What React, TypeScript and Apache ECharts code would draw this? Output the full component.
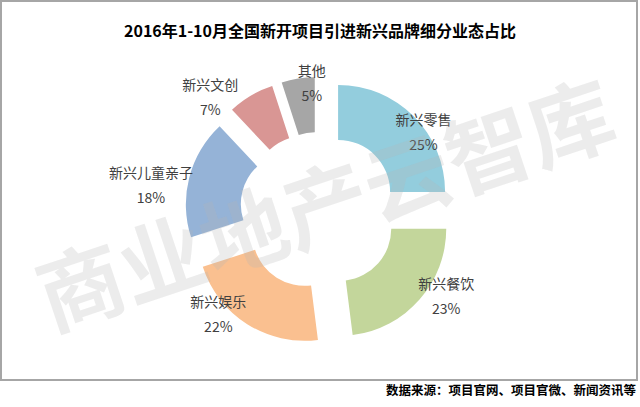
import React, { useEffect, useRef } from "react";
import * as echarts from "echarts";

const TITLE = "2016年1-10月全国新开项目引进新兴品牌细分业态占比";
const SOURCE = "数据来源：项目官网、项目官微、新闻资讯等";
const WATERMARK = "商业地产云智库";

const categories = ["新兴零售", "新兴餐饮", "新兴娱乐", "新兴儿童亲子", "新兴文创", "其他"];
const shares = [25, 23, 22, 18, 7, 5];
const colors = ["#93CDDD", "#C3D69B", "#FAC090", "#95B3D7", "#D99694", "#A6A6A6"];
// label shifts from the default inside position (styling only)
const labelDx = [27, 45, -42, -62, -53, 10];
const labelDy = [-2, 12, 10, 1, -20, -20];

export default function App() {
  const ref = useRef<HTMLDivElement>(null);
  useEffect(() => {
    if (!ref.current) return;
    const chart = echarts.init(ref.current, null, { renderer: "svg" });
    chart.setOption({
      animation: false,
      backgroundColor: "#ffffff",
      title: {
        text: TITLE,
        left: "center",
        top: 17,
        textStyle: {
          fontFamily: "Noto Sans CJK SC",
          fontSize: 16,
          fontWeight: "bold",
          color: "#000000",
        },
      },
      graphic: [
        {
          type: "rect",
          z: -10,
          shape: { x: 1, y: 1, width: 636, height: 379 },
          style: { fill: "none", stroke: "#a6a6a6", lineWidth: 2 },
        },
        {
          type: "text",
          z: 100,
          x: 324,
          y: 200,
          rotation: (18.5 * Math.PI) / 180,
          style: {
            text: WATERMARK,
            fontFamily: "Noto Sans CJK SC",
            fontSize: 86,
            fontWeight: "bold",
            fill: "rgba(180,180,180,0.26)",
            align: "center",
            verticalAlign: "middle",
          },
        },
        {
          type: "text",
          right: 4,
          top: 383,
          style: {
            text: SOURCE,
            fontFamily: "Noto Sans CJK SC",
            fontSize: 12.5,
            fontWeight: "bold",
            fill: "#000000",
          },
        },
      ],
      series: [
        {
          type: "pie",
          center: [319, 211],
          radius: [52, 107],
          startAngle: 90,
          clockwise: true,
          selectedMode: "multiple",
          selectedOffset: 27,
          avoidLabelOverlap: false,
          emphasis: { disabled: true },
          select: { itemStyle: {} },
          label: {
            show: true,
            position: "inside",
            formatter: "{b}\n{c}%",
            fontFamily: "Noto Sans CJK SC",
            fontSize: 14,
            lineHeight: 25,
            color: "#404040",
            align: "center",
          },
          labelLine: { show: false },
          labelLayout: (p: any) => ({ dx: labelDx[p.dataIndex], dy: labelDy[p.dataIndex] }),
          data: categories.map((name, i) => ({
            name,
            value: shares[i],
            selected: true,
            itemStyle: { color: colors[i] },
          })),
        },
      ],
    });
    return () => chart.dispose();
  }, []);
  return (
    <div
      ref={ref}
      style={{ position: "fixed", left: 0, top: 0, width: 640, height: 407 }}
    />
  );
}
